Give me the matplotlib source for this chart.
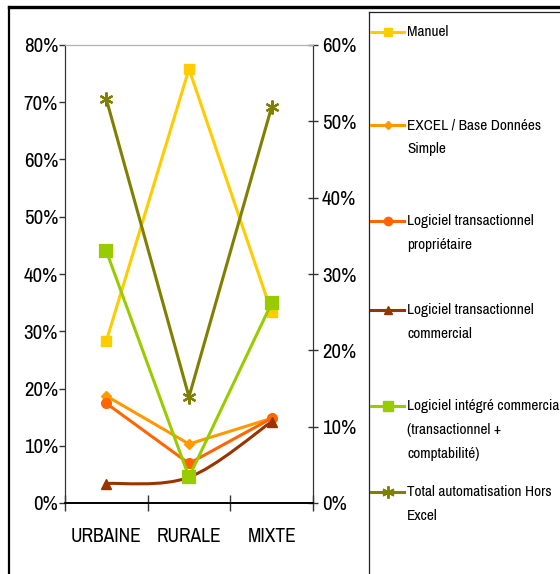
"""Line chart: automation level per zone type (primary + secondary axis)."""

import matplotlib

matplotlib.use("Agg")
import matplotlib.pyplot as plt
import numpy as np
from matplotlib.lines import Line2D
from matplotlib.patches import PathPatch
from matplotlib.path import Path
from matplotlib.ticker import FixedLocator, PercentFormatter

plt.rcParams["font.family"] = ["Archivo Narrow", "PT Sans Narrow", "Roboto Condensed", "Liberation Sans", "DejaVu Sans"]

categories = ["URBAINE", "RURALE", "MIXTE"]

# primary axis (0-80 %)
manuel = [28.3, 75.8, 33.3]
excel_base = [18.7, 10.3, 14.8]
logiciel_proprietaire = [17.4, 6.9, 14.8]
logiciel_commercial = [3.4, 4.5, 14.2]

# secondary axis (0-60 %)
logiciel_integre = [33.0, 3.4, 26.2]
total_hors_excel = [52.9, 13.9, 51.9]

labels = [
    "Manuel",
    "EXCEL / Base Données\nSimple",
    "Logiciel transactionnel\npropriétaire",
    "Logiciel transactionnel\ncommercial",
    "Logiciel intégré commercial\n(transactionnel +\ncomptabilité)",
    "Total automatisation Hors\nExcel",
]

STAR = (6, 2, 0)
styles = [
    dict(color="#FFCC00", marker="s", ms=7),
    dict(color="#FF9900", marker="D", ms=5),
    dict(color="#FF6600", marker="o", ms=7),
    dict(color="#993300", marker="^", ms=7),
    dict(color="#99CC00", marker="s", ms=8),
    dict(color="#808000", marker=STAR, ms=10),
]
LW = 2.2


def smooth_path(x, y):
    """Catmull-Rom style bezier through the points (Excel 'smoothed line')."""
    pts = np.column_stack([x, y]).astype(float)
    verts = [pts[0]]
    codes = [Path.MOVETO]
    n = len(pts)
    for i in range(n - 1):
        p0 = pts[max(i - 1, 0)]
        p1 = pts[i]
        p2 = pts[i + 1]
        p3 = pts[min(i + 2, n - 1)]
        verts += [p1 + (p2 - p0) / 6.0, p2 - (p3 - p1) / 6.0, p2]
        codes += [Path.CURVE4] * 3
    return Path(verts, codes)


W, H = 560, 574
fig = plt.figure(figsize=(W / 100, H / 100), dpi=100)
ax = fig.add_axes([65 / W, 1 - 503 / H, (313 - 65) / W, (503 - 45) / H])
ax2 = ax.twinx()

x = np.arange(len(categories))
primary = [manuel, excel_base, logiciel_proprietaire, logiciel_commercial]
secondary = [logiciel_integre, total_hors_excel]

for i, vals in enumerate(primary):
    st = styles[i]
    if i == 3:
        ax.add_patch(PathPatch(smooth_path(x, vals), fill=False, edgecolor=st["color"], lw=LW, capstyle="round"))
        ax.plot(x, vals, ls="none", marker=st["marker"], ms=st["ms"], color=st["color"], mec=st["color"])
    else:
        ax.plot(x, vals, color=st["color"], lw=LW, marker=st["marker"], ms=st["ms"], mec=st["color"])

for i, vals in enumerate(secondary):
    st = styles[4 + i]
    ax2.plot(x, vals, color=st["color"], lw=LW, marker=st["marker"], ms=st["ms"], mec=st["color"], mew=1.6)

ax.set_xlim(-0.5, len(categories) - 0.5)
ax.set_ylim(0, 80)
ax2.set_ylim(0, 60)
ax.set_yticks(np.arange(0, 81, 10))
ax2.set_yticks(np.arange(0, 61, 10))
ax.yaxis.set_major_formatter(PercentFormatter(100, decimals=0))
ax2.yaxis.set_major_formatter(PercentFormatter(100, decimals=0))

ax.xaxis.set_major_locator(FixedLocator(np.arange(len(categories) + 1) - 0.5))
ax.xaxis.set_minor_locator(FixedLocator(x))
ax.set_xticklabels([], minor=False)
ax.set_xticklabels(categories, minor=True)
ax.tick_params(axis="x", which="major", direction="inout", length=11, width=1, color="#333333")
ax.tick_params(axis="x", which="minor", length=0, pad=17, labelsize=14)
ax.tick_params(axis="y", direction="out", length=4, width=1, color="#333333", pad=1, labelsize=15)
ax2.tick_params(axis="y", direction="inout", length=7, width=1, color="#333333", pad=3, labelsize=15)

for a in (ax, ax2):
    a.spines["top"].set_color("#b0b0b0")
    a.spines["left"].set_color("#333333")
    a.spines["right"].set_color("#333333")
    a.spines["bottom"].set_color("black")
    a.spines["bottom"].set_linewidth(1.2)

# overlay in pixel coordinates for frame and legend
ov = fig.add_axes([0, 0, 1, 1], zorder=-1)
ov.set_xlim(0, W)
ov.set_ylim(H, 0)
ov.axis("off")
ov.plot([9, 9], [7, H + 5], color="black", lw=1.6)
ov.plot([9, W + 5], [7, 7], color="black", lw=2.4)
ov.plot([369, 369], [12, H + 5], color="#222222", lw=0.9)
ov.plot([369, W + 5], [12, 12], color="#222222", lw=0.9)

legend_y = [32, 125, 221, 310, 406, 492]
for lab, st, ly in zip(labels, styles, legend_y):
    mew = 1.4 if st["marker"] == STAR else 1.0
    ov.add_line(Line2D([371, 404], [ly, ly], color=st["color"], lw=LW))
    ov.plot([387.5], [ly], ls="none", marker=st["marker"], ms=st["ms"] - 1, color=st["color"],
            mec=st["color"], mew=mew)
    ov.text(407, ly - 7, lab, fontsize=11, va="top", ha="left", linespacing=1.9)

fig.savefig("out.png", dpi=100)
